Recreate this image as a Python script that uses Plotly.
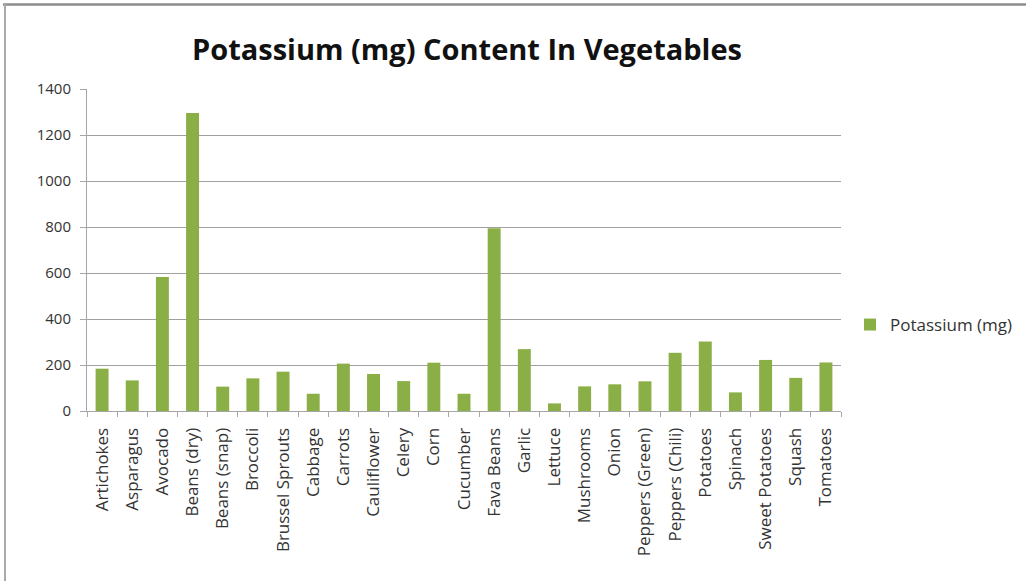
import plotly.graph_objects as go

categories = ["Artichokes", "Asparagus", "Avocado", "Beans (dry)", "Beans (snap)", "Broccoli",
              "Brussel Sprouts", "Cabbage", "Carrots", "Cauliflower", "Celery", "Corn",
              "Cucumber", "Fava Beans", "Garlic", "Lettuce", "Mushrooms", "Onion",
              "Peppers (Green)", "Peppers (Chili)", "Potatoes", "Spinach", "Sweet Potatoes",
              "Squash", "Tomatoes"]
potassium = [184, 133, 583, 1296, 106, 142, 171, 75, 206, 161, 130, 210, 75, 795, 269, 33,
             107, 116, 129, 253, 302, 81, 222, 144, 211]
series_name = "Potassium (mg)"
title_text = "Potassium (mg) Content In Vegetables"
y_ticks = [0, 200, 400, 600, 800, 1000, 1200, 1400]

W, H = 1026, 581
L, R, T, B = 87, 185, 89, 170
pw, ph = W - L - R, H - T - B

FONT = "Open Sans"

fig = go.Figure()
fig.add_trace(go.Bar(x=categories, y=potassium, name=series_name,
                     marker=dict(color="#8BAF47", line=dict(width=0))))

def px2paper_x(px):
    return (px - L) / pw

def px2paper_y(py):
    return (H - B - py) / ph

fig.update_layout(
    width=W, height=H,
    margin=dict(l=L, r=R, t=T, b=B, autoexpand=False),
    paper_bgcolor="white", plot_bgcolor="white",
    font=dict(family=FONT, color="#333333"),
    title=dict(text="<b>" + title_text + "</b>", x=px2paper_x(467), xref="paper",
               xanchor="center", y=1 - 50 / H, yanchor="middle",
               font=dict(size=29, family=FONT, color="#111111")),
    bargap=0.57,
    showlegend=True,
    legend=dict(x=px2paper_x(850), y=px2paper_y(325), xanchor="left", yanchor="middle",
                font=dict(size=17, family=FONT, color="#333333"),
                itemwidth=30, bgcolor="rgba(0,0,0,0)"),
    xaxis=dict(type="category", tickangle=-90, showgrid=False, showline=True,
               linecolor="#A6A6A6", linewidth=1, ticks="outside", tickson="boundaries",
               ticklen=5, tickcolor="#A6A6A6", ticklabelstandoff=9,
               tickfont=dict(size=17, family=FONT, color="#333333"),
               range=[-0.5, len(categories) - 0.5]),
    yaxis=dict(range=[0, 1400], tickvals=y_ticks, showgrid=True, gridcolor="#A0A0A0",
               gridwidth=1, showline=True, linecolor="#A6A6A6", linewidth=1,
               ticks="outside", ticklen=6, tickcolor="#A6A6A6", zeroline=False,
               ticklabelstandoff=6,
               tickfont=dict(size=15, family=FONT, color="#333333")),
    shapes=[
        dict(type="line", xref="paper", yref="paper",
             x0=px2paper_x(3), x1=px2paper_x(W + 5), y0=px2paper_y(4.5), y1=px2paper_y(4.5),
             line=dict(color="#8C8C8C", width=2.5)),
        dict(type="line", xref="paper", yref="paper",
             x0=px2paper_x(5), x1=px2paper_x(5), y0=px2paper_y(3), y1=px2paper_y(H + 5),
             line=dict(color="#AAAAAA", width=2)),
    ],
)

fig.write_html("out.html")
